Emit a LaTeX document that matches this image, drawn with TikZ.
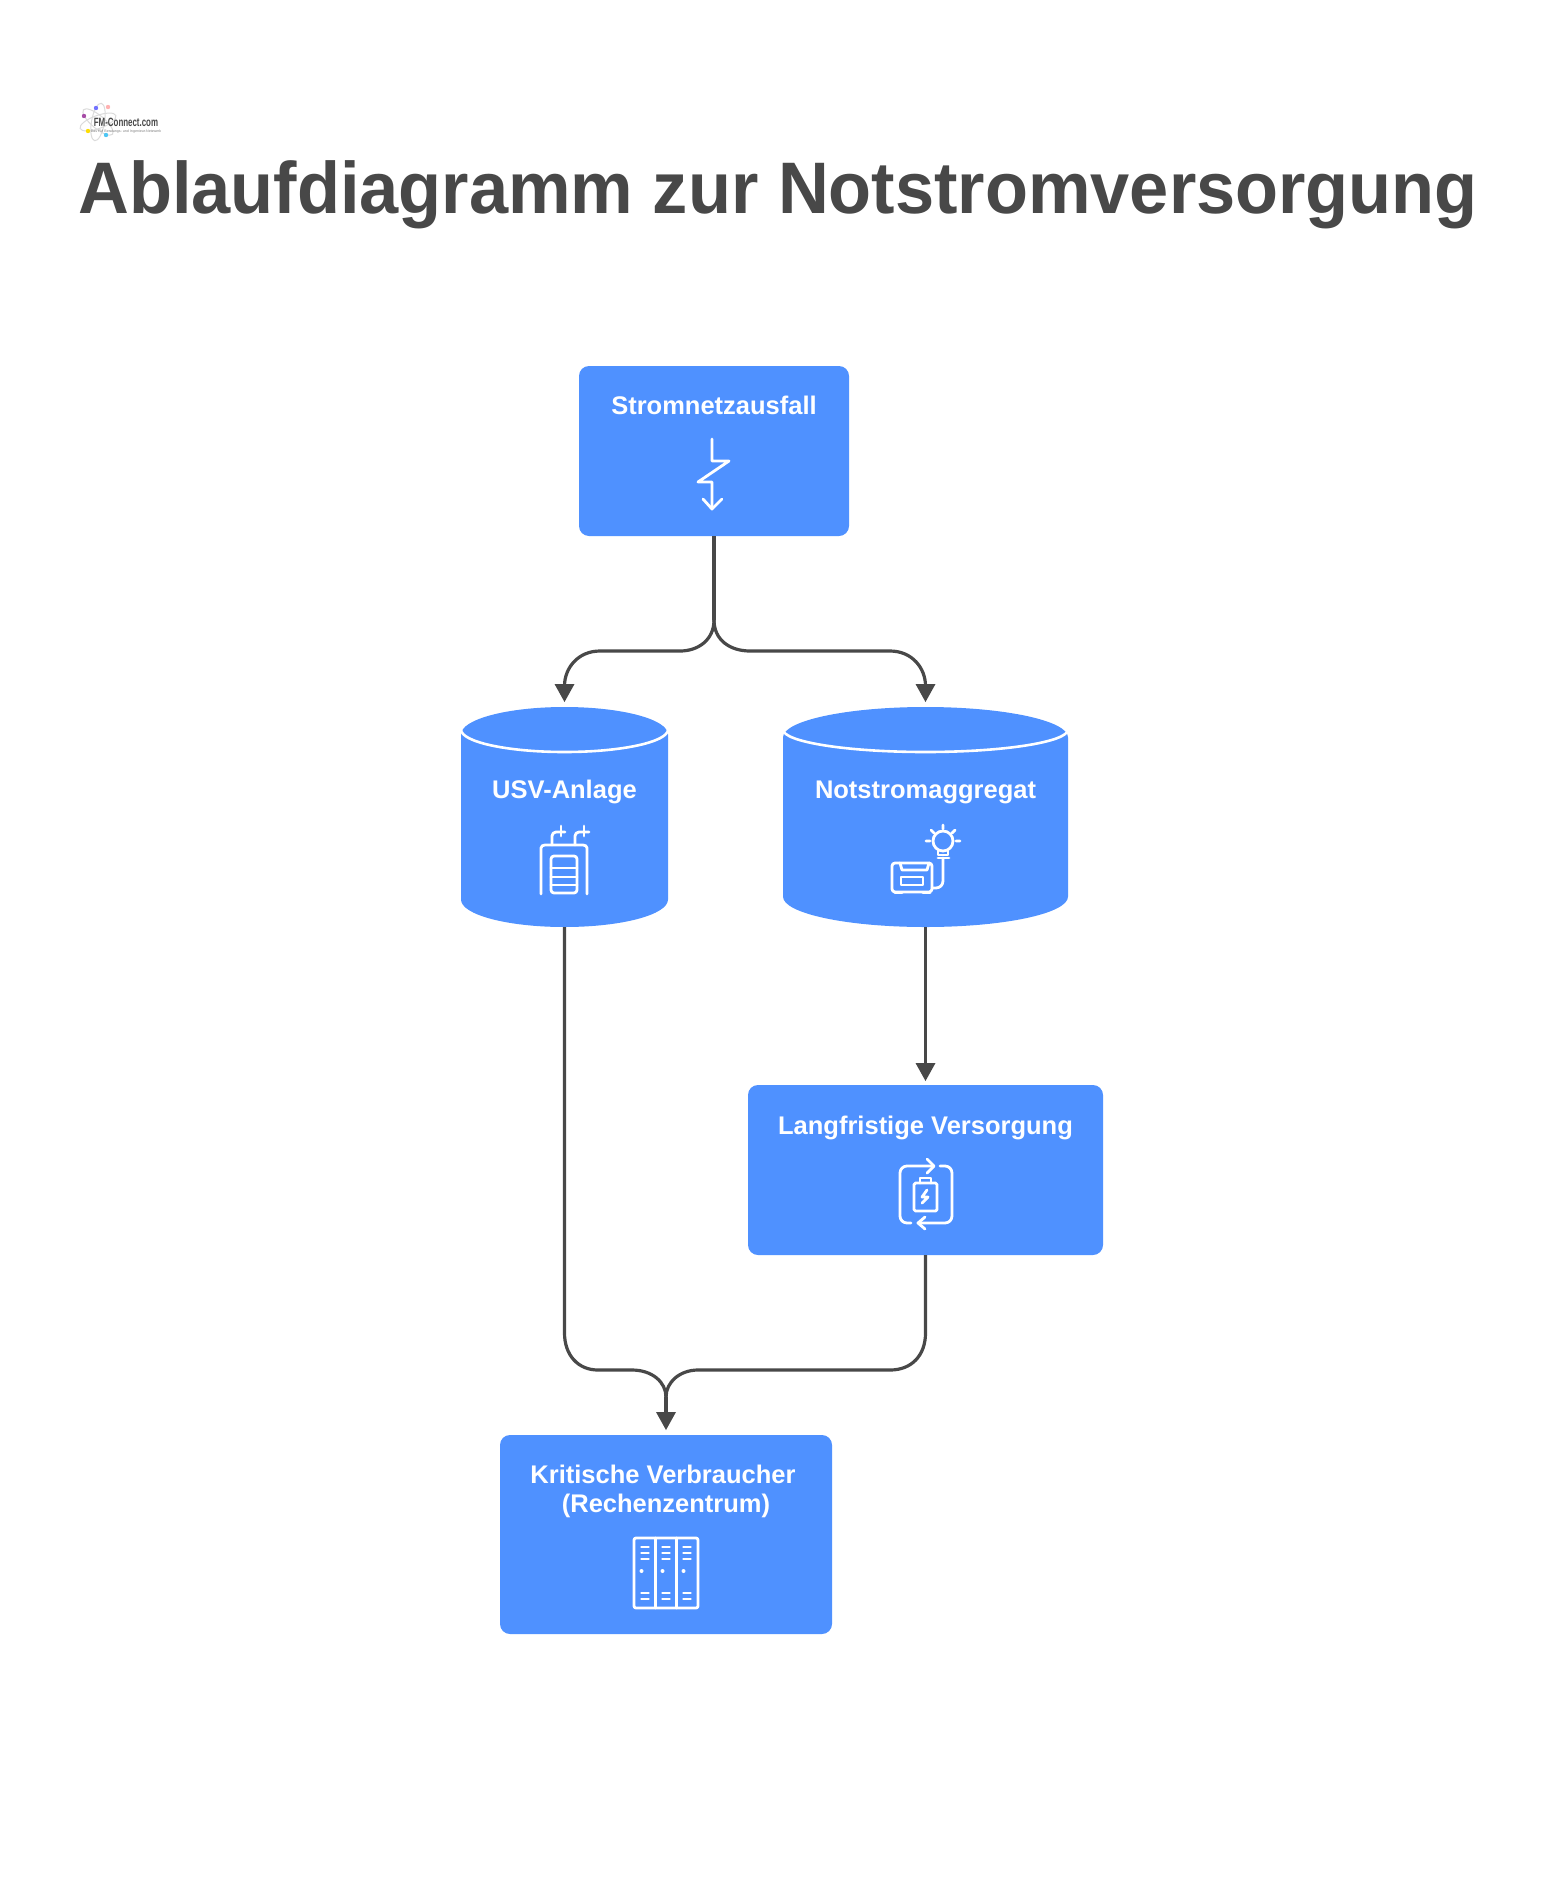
\documentclass[tikz,border=0pt]{standalone}
\usepackage{fontspec}
\setmainfont{Liberation Sans}
\usetikzlibrary{shapes.geometric}
\definecolor{boxblue}{HTML}{4F91FF}
\definecolor{darkline}{HTML}{484848}
\newcommand{\toptext}[2]{\raisebox{#1pt}[0pt][0pt]{#2}}
\tikzset{
	box/.style={rectangle, fill=boxblue, rounded corners=10pt, text=white, font=\bfseries\fontsize{25.5}{29}\selectfont, inner sep=0pt, outer sep=0pt},
	tank/.style={cylinder, shape border rotate=90, anchor=shape center, fill=boxblue, text=white, font=\bfseries\fontsize{25.5}{29}\selectfont, inner sep=0pt, outer sep=0pt, minimum height=220pt},
	link/.style={draw=darkline, line width=3.2pt},
	tip/.style={fill=darkline, draw=none},
	icon/.style={draw=white, line width=2.8pt, line cap=round, line join=round, fill=none}
}
\begin{document}
\begin{tikzpicture}[x=1pt, y=-1pt]
	\useasboundingbox (0,0) rectangle (1558,1884);
	\fill[white] (0,0) rectangle (1558,1884);

	% logo
	\foreach \a in {20,80,140}
		\draw[black!14, line width=1pt, rotate around={\a:(98,122)}] (98,122) ellipse (19 and 6.5);
	\fill[violet!70] (84,116) circle (2.2);
	\fill[blue!55] (96,108) circle (2.2);
	\fill[red!30] (108,107) circle (2.2);
	\fill[yellow!80!orange] (88,131) circle (2.2);
	\fill[cyan!70] (106,135) circle (2.2);
	\node[inner sep=0pt, text=black!72, font=\bfseries\fontsize{12}{13}\selectfont, xscale=0.66] (logoname) at (126,122){FM-Connect.com};
	\node[inner sep=0pt, text=black!50, font=\fontsize{3.6}{4}\selectfont] (logotag) at (126,132){Das FM Beratungs- und Ingenieur-Netzwerk};

	% title
	\node[inner sep=0pt, anchor=base west, text=darkline, font=\bfseries\fontsize{73}{80}\selectfont, xscale=0.964] (title) at (78,213){Ablaufdiagramm zur Notstromversorgung};

	% boxes
	\node[box, minimum width=270pt, minimum height=170pt] (strom) at (714,451){\toptext{37}{Stromnetzausfall}};
	\node[tank, minimum width=207pt, aspect=0.38] (usv) at (564.5,817){\toptext{32}{USV-Anlage}};
	\node[tank, minimum width=285pt, aspect=0.275] (aggregat) at (925.5,817){\toptext{34}{Notstromaggregat}};
	\node[box, minimum width=355pt, minimum height=170pt] (lang) at (925.5,1170){\toptext{36}{Langfristige Versorgung}};
	\node[box, minimum width=332pt, minimum height=199pt] (kritisch) at (666,1534.5){\toptext{22}{\shortstack{Kritische Verbraucher\hspace*{6pt}\\[7pt](Rechenzentrum)}}};

	% tank lids
	\draw[white, line width=2.6pt] (461,729.5) arc[start angle=180, end angle=0, x radius=103.5, y radius=22.5];
	\draw[white, line width=2.6pt] (783,729.5) arc[start angle=180, end angle=0, x radius=142.5, y radius=22.5];

	% icon strom
	\draw[icon] (712,439) -- (712,461) -- (729,461) -- (698,482) -- (712,482) -- (712,509);
	\draw[icon] (703,499) -- (712,509) -- (722,499);

	% icon usv
	\draw[icon] (541,894) -- (541,848) to[out=90, in=180] (545,845) -- (583,845) to[out=0, in=90] (587,848) -- (587,894);
	\draw[icon, rounded corners=3pt] (551,856) rectangle (577,893);
	\draw[icon] (551,868) -- (577,868) (551,877) -- (577,877) (551,885) -- (577,885);
	\draw[icon, rounded corners=4pt] (552,845) -- (552,832) -- (565,832);
	\draw[icon, rounded corners=4pt] (575,845) -- (575,832) -- (589,832);
	\draw[icon] (561,826) -- (561,836) (584,826) -- (584,836);

	% icon aggregat
	\draw[icon] (943,841) circle (10);
	\draw[icon] (938,851) -- (938,855) -- (948,855) -- (948,851);
	\draw[icon] (943,825) -- (943,829) (926,841) -- (930,841) (956,841) -- (960,841) (931,830) -- (934,833) (955,830) -- (952,833);
	\draw[icon] (938,858) -- (949,858);
	\draw[icon, rounded corners=7pt] (943,858) -- (943,888) -- (932,888);
	\draw[icon, rounded corners=3pt] (892,863) rectangle (932,892);
	\draw[icon] (900,863) -- (902,870) -- (927,870) -- (929,863);
	\draw[icon] (901,877) rectangle (923,885);
	\draw[icon] (895,893) -- (902,893) (923,893) -- (930,893);

	% icon lang
	\draw[icon, rounded corners=7pt] (933,1166) -- (900,1166) -- (900,1223) -- (911,1223);
	\draw[icon, rounded corners=7pt] (918,1223) -- (952,1223) -- (952,1166) -- (940,1166);
	\draw[icon] (927,1159) -- (934,1166) -- (927,1173);
	\draw[icon] (925,1217) -- (918,1223) -- (925,1229);
	\draw[icon, rounded corners=1.5pt] (914,1183) rectangle (937,1211);
	\draw[icon] (920,1183) -- (920,1178) -- (931,1178) -- (931,1183);
	\draw[icon] (927,1190) -- (922,1197) -- (928,1197) -- (922,1203);

	% icon kritisch
	\draw[icon, rounded corners=2pt] (634,1538) rectangle (698,1608);
	\draw[icon] (655.5,1538) -- (655.5,1608) (676.5,1538) -- (676.5,1608);
	\foreach \c in {645,666,687} {
		\foreach \h in {1547,1553,1559,1593,1599}
			\draw[icon] (\c-3.5,\h) -- (\c+3.5,\h);
		\fill[white] (\c-3.5,1571) circle (2);
	}

	% links
	\coordinate (split) at (714,620);
	\coordinate (join) at (666,1397);
	\coordinate (usvin) at (564.5,686);
	\coordinate (aggin) at (925.5,686);
	\coordinate (langin) at (925.5,1065);
	\coordinate (kritin) at (666,1414);
	\path[link] (strom.south) -- (split);
	\path[link] (split) .. controls (714,640) and (698,651) .. (680,651) -- (600,651) .. controls (578,651) and (564.5,668) .. (usvin);
	\path[link] (split) .. controls (714,640) and (730,651) .. (750,651) -- (890,651) .. controls (912,651) and (925.5,668) .. (aggin);
	\path[link] (aggregat.south) -- (langin);
	\path[link] (usv.south) -- (564.5,1333) .. controls (564.5,1355) and (578,1370) .. (598,1370) -- (632,1370) .. controls (652,1370) and (666,1382) .. (join);
	\path[link] (lang.south) -- (925.5,1333) .. controls (925.5,1355) and (912,1370) .. (890,1370) -- (698,1370) .. controls (680,1370) and (666,1382) .. (join);
	\path[link] (join) -- (kritin);

	% tips
	\fill[tip] (554.5,684) -- (574.5,684) -- (564.5,702) -- cycle;
	\fill[tip] (915.5,684) -- (935.5,684) -- (925.5,702) -- cycle;
	\fill[tip] (915.5,1063) -- (935.5,1063) -- (925.5,1081) -- cycle;
	\fill[tip] (656,1412) -- (676,1412) -- (666,1430) -- cycle;
\end{tikzpicture}
\end{document}
